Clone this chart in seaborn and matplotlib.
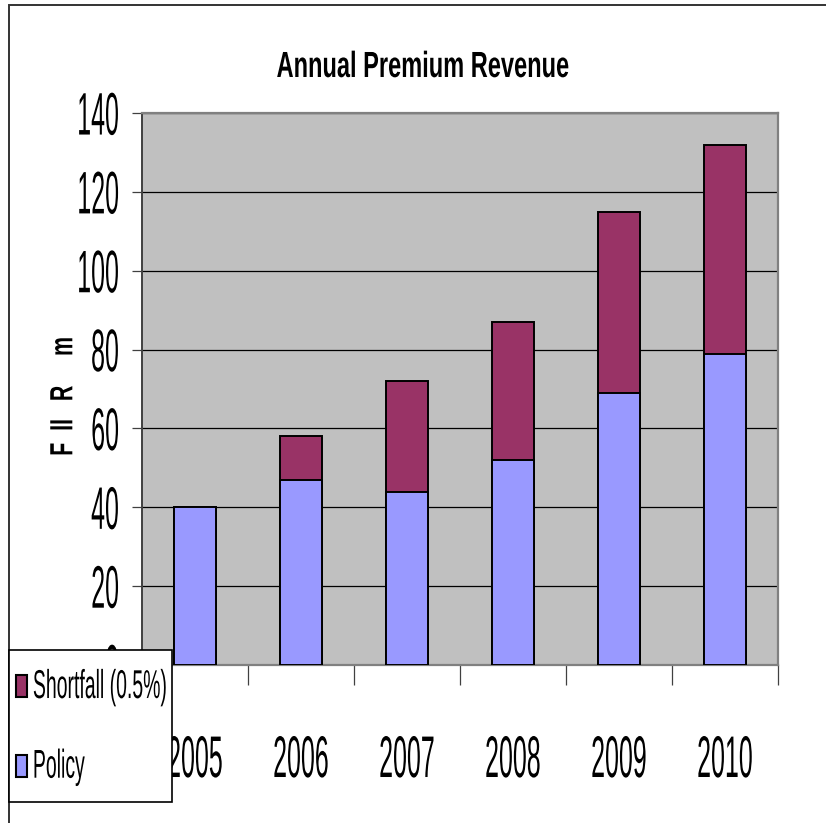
import numpy as np
import pandas as pd
import matplotlib
matplotlib.use("Agg")
import matplotlib.pyplot as plt
import seaborn as sns
from matplotlib.patches import Patch, Rectangle
from matplotlib.patheffects import AbstractPathEffect
from matplotlib.transforms import Affine2D
from matplotlib.ticker import FixedLocator

# ---- data -------------------------------------------------------------
years = ["2005", "2006", "2007", "2008", "2009", "2010"]
policy = [40, 47, 44, 52, 69, 79]
shortfall = [0, 11, 28, 35, 46, 53]
series_names = ["Shortfall (0.5%)", "Policy"]
y_ticks = [0, 20, 40, 60, 80, 100, 120, 140]
title = "Annual Premium Revenue"
ylabel = "F  II   R     m"

# ---- style ------------------------------------------------------------
POLICY_COLOR = "#9999FF"
SHORTFALL_COLOR = "#993366"
PLOT_BG = "#C0C0C0"

plt.rcParams["font.family"] = ["Liberation Sans", "DejaVu Sans"]


class Tall(AbstractPathEffect):
    """Draw text glyphs stretched perpendicular to the baseline (a tall,
    condensed look) while keeping the layout width of the original font."""

    def __init__(self, factor, anchor="center"):
        super().__init__()
        self.factor = factor
        self.anchor = anchor

    def draw_path(self, renderer, gc, tpath, affine, rgbFace=None):
        ext = tpath.get_extents()
        if self.anchor == "top":
            a = ext.y1
        elif self.anchor == "baseline":
            a = 0.0
        else:
            a = 0.5 * (ext.y0 + ext.y1)
        stretch = Affine2D().translate(0, -a).scale(1, self.factor).translate(0, a)
        renderer.draw_path(gc, tpath, stretch + affine, rgbFace)


W, H = 826, 823
fig = plt.figure(figsize=(W / 100, H / 100), dpi=100)
fig.patch.set_facecolor("white")

# outer chart-area border (left and top edges visible)
fig.add_artist(Rectangle((9 / W, -0.05), 1.2, 1 - 5 / H + 0.05,
                         transform=fig.transFigure, fill=False,
                         ec="#333333", lw=1.4, zorder=0.5))

ax = fig.add_axes([142 / W, 1 - 665 / H, (778 - 142) / W, (665 - 113) / H])
ax.set_facecolor(PLOT_BG)

df = pd.DataFrame({"year": years, "policy": policy, "shortfall": shortfall})
df["total"] = df["policy"] + df["shortfall"]

bar_kw = dict(saturation=1, width=0.4, edgecolor="black", linewidth=1.4,
              errorbar=None, ax=ax, zorder=3)
sns.barplot(data=df, x="year", y="total", color=SHORTFALL_COLOR, **bar_kw)
sns.barplot(data=df, x="year", y="policy", color=POLICY_COLOR, **bar_kw)

ax.set_xlim(-0.5, len(years) - 0.5)
ax.set_ylim(0, 140)
ax.set_yticks(y_ticks)
ax.yaxis.grid(True, color="black", lw=0.9, zorder=1)
ax.xaxis.grid(False)
ax.set_axisbelow(True)

ax.set_xlabel("")
ax.set_ylabel(ylabel, fontsize=15.4, fontweight="bold", va="center")
ax.yaxis.set_label_coords(-0.124, 0.487)
ax.yaxis.label.set_path_effects([Tall(1.5)])

ax.tick_params(axis="y", direction="out", length=7, width=0.9,
               color="#404040", pad=9.5, labelsize=18)
ax.tick_params(axis="x", which="major", length=0, pad=50, labelsize=18)
ax.xaxis.set_minor_locator(FixedLocator(np.arange(-0.5, len(years), 1.0)))
ax.tick_params(axis="x", which="minor", direction="out", length=14.5,
               width=0.9, color="#404040")

for lab in ax.get_yticklabels():
    lab.set_path_effects([Tall(2.4)])
for lab in ax.get_xticklabels():
    lab.set_path_effects([Tall(2.35, "top")])

for side in ("top", "right", "bottom"):
    ax.spines[side].set_color("#808080")
    ax.spines[side].set_linewidth(1.6)
ax.spines["left"].set_color("#404040")
ax.spines["left"].set_linewidth(1.4)

fig.text(423 / W, 1 - 77 / H, title, ha="center", va="baseline",
         fontsize=17, fontweight="bold", path_effects=[Tall(1.54, "baseline")])

# legend box sits over the lower-left corner of the plot
fig.add_artist(Rectangle((9 / W, 1 - 802 / H), (172 - 9) / W, (802 - 650) / H,
                         transform=fig.transFigure, fc="white", ec="black",
                         lw=1.2, zorder=2))
handles = [Patch(fc=SHORTFALL_COLOR, ec="black", lw=1.5),
           Patch(fc=POLICY_COLOR, ec="black", lw=1.5)]
leg = fig.legend(handles=handles, labels=series_names, loc="upper left",
                 bbox_to_anchor=(16 / W, 1 - 675 / H),
                 bbox_transform=fig.transFigure, frameon=False, fontsize=14,
                 handlelength=0.57, handleheight=1.39, handletextpad=0.3,
                 labelspacing=2.95, borderpad=0, borderaxespad=0)
leg.set_zorder(3)
for t in leg.get_texts():
    t.set_path_effects([Tall(2.07)])

fig.savefig("out.png", dpi=100)
